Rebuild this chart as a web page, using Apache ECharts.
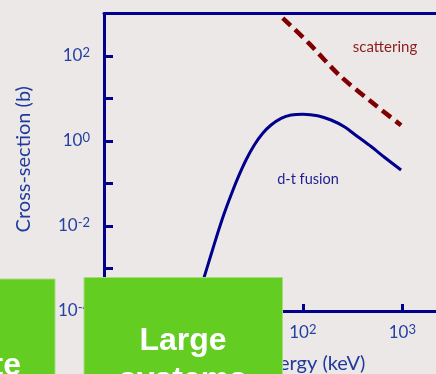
<!DOCTYPE html>
<html><head><meta charset="utf-8">
<script src="https://cdn.jsdelivr.net/npm/echarts@6/dist/echarts.min.js"></script>
<style>html,body{margin:0;padding:0;background:#ede8e8;overflow:hidden;width:436px;height:374px;}#c{width:460px;height:374px;}</style>
</head><body><div id="c"></div>
<script>
// Data
const fusionEnergy = [7.86, 10.2, 11.9, 13.9, 16.2, 18.96, 22.1, 26.8, 32.5, 39.5, 47.9, 60.4, 76.1, 100, 141, 192, 261, 357, 486, 661, 972];
const fusionSigma  = [1e-4, 6.41e-4, 2.08e-3, 6.73e-3, 0.0199, 0.0536, 0.132, 0.357, 0.805, 1.52, 2.38, 3.42, 4.09, 4.28, 3.94, 3.12, 2.17, 1.26, 0.74, 0.415, 0.208];
const scatterEnergy = [62.8, 116, 233, 467, 972];
const scatterSigma  = [783, 195, 35.2, 9.07, 2.34];
const xTickLabels = ['10^0', '10^1', '10^2', '10^3'];
const yTickLabels = ['10^-4', '10^-2', '10^0', '10^2'];
const seriesNames = ['d-t fusion', 'scattering'];
const boxTexts = ['te', 'Large', 'systems'];

const navy = '#00008c';
const labelBlue = '#2440a0';
const rich = {
  b: { fontSize: 17, fontFamily: 'Lato', color: labelBlue },
  s: { fontSize: 13, fontFamily: 'Lato', color: labelBlue, verticalAlign: 'top', padding: [0, 0, 6, 0] }
};
function supLabel(v, list) {
  const e = Math.round(Math.log10(v));
  const key = '10^' + e;
  if (list.indexOf(key) < 0) return '';
  return '{b|10}{s|' + e + '}';
}
function zip(a, b) { return a.map((v, i) => [v, b[i]]); }

const chart = echarts.init(document.getElementById('c'), null, { renderer: 'canvas' });
chart.setOption({
  backgroundColor: '#ede8e8',
  animation: false,
  grid: { left: 104, top: 13.5, bottom: 63, right: 8, containLabel: false, outerBoundsMode: 'none' },
  xAxis: [{
    type: 'log', logBase: 10, min: 1, max: Math.pow(10, 3.5),
    name: 'Energy (keV)', nameLocation: 'middle', nameGap: 43,
    nameTextStyle: { fontFamily: 'Lato', fontSize: 20, color: '#1f3a9c', padding: [0, 0, 0, 66] },
    axisLine: { show: true, lineStyle: { color: navy, width: 3 } },
    axisTick: { show: true, inside: true, length: 7, lineStyle: { color: navy, width: 3 } },
    axisLabel: { margin: 12, formatter: v => supLabel(v, xTickLabels), rich: rich },
    splitLine: { show: false }, minorTick: { show: false }
  }, {
    type: 'log', logBase: 10, min: 1, max: Math.pow(10, 3.5), position: 'top',
    axisLine: { show: true, lineStyle: { color: navy, width: 3 } },
    axisTick: { show: false }, axisLabel: { show: false }, splitLine: { show: false }
  }],
  yAxis: {
    type: 'log', logBase: 10, min: 1e-4, max: 1e3,
    name: 'Cross-section (b)', nameLocation: 'middle', nameGap: 70,
    nameTextStyle: { fontFamily: 'Lato', fontSize: 20, color: '#1f3a9c', padding: [0, 0, 0, 6] },
    axisLine: { show: true, lineStyle: { color: navy, width: 3 } },
    axisTick: { show: true, inside: true, length: 9, lineStyle: { color: navy, width: 3 } },
    axisLabel: { margin: 14, formatter: v => supLabel(v, yTickLabels), rich: rich },
    splitLine: { show: false }, minorTick: { show: false }
  },
  series: [{
    name: seriesNames[0], type: 'line', data: zip(fusionEnergy, fusionSigma),
    showSymbol: false, smooth: 0.3, clip: true,
    lineStyle: { color: navy, width: 3 }
  }, {
    name: seriesNames[1], type: 'line', data: zip(scatterEnergy, scatterSigma),
    showSymbol: false, smooth: 0.3, clip: true,
    lineStyle: { color: '#800000', width: 4.5, type: [11, 6], cap: 'butt' }
  }],
  graphic: [
    { type: 'text', z: 50, x: 385, y: 47, style: { text: seriesNames[1], fontFamily: 'Lato', fontSize: 15, fill: '#8b1c1c', textAlign: 'center', textVerticalAlign: 'middle', align: 'center', verticalAlign: 'middle' } },
    { type: 'text', z: 50, x: 308, y: 179, style: { text: seriesNames[0], fontFamily: 'Lato', fontSize: 14.5, fill: '#1c1c90', textAlign: 'center', textVerticalAlign: 'middle', align: 'center', verticalAlign: 'middle' } },
    { type: 'rect', z: 100, shape: { x: -2, y: 279, width: 57, height: 100 }, style: { fill: '#63cd21', stroke: '#a6dc80', lineWidth: 1 } },
    { type: 'rect', z: 100, shape: { x: 84, y: 277.5, width: 198.5, height: 100 }, style: { fill: '#63cd21', stroke: '#a6dc80', lineWidth: 1 } },
    { type: 'text', z: 101, x: 21, y: 366, style: { text: boxTexts[0], fontFamily: 'Liberation Sans', fontWeight: 'bold', fontSize: 32, fill: '#ffffff', textAlign: 'right', textVerticalAlign: 'middle', align: 'right', verticalAlign: 'middle' } },
    { type: 'text', z: 101, x: 183, y: 341, style: { text: boxTexts[1], fontFamily: 'Liberation Sans', fontWeight: 'bold', fontSize: 32, fill: '#ffffff', textAlign: 'center', textVerticalAlign: 'middle', align: 'center', verticalAlign: 'middle' } },
    { type: 'text', z: 101, x: 183, y: 380, style: { text: boxTexts[2], fontFamily: 'Liberation Sans', fontWeight: 'bold', fontSize: 32, fill: '#ffffff', textAlign: 'center', textVerticalAlign: 'middle', align: 'center', verticalAlign: 'middle' } }
  ]
});
</script></body></html>
